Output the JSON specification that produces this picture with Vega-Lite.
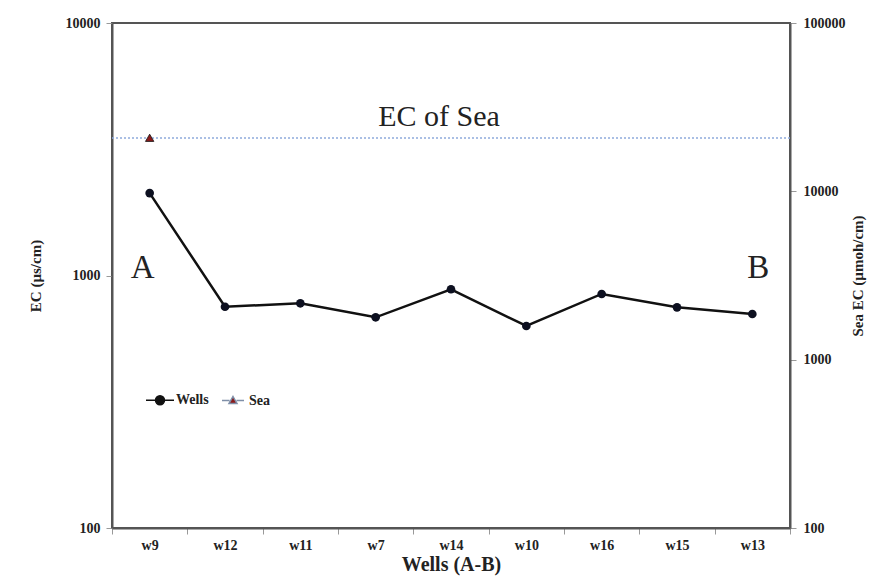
{
  "$schema": "https://vega.github.io/schema/vega-lite/v6.json",
  "width": 678,
  "height": 505,
  "autosize": {"type": "none"},
  "padding": {"left": 112, "top": 23, "right": 99, "bottom": 56},
  "background": "white",
  "config": {
    "view": {"stroke": "#555", "strokeWidth": 2},
    "font": "Liberation Serif",
    "axis": {
      "labelFont": "Liberation Serif", "labelFontWeight": "bold", "labelFontSize": 14, "labelColor": "#222",
      "titleFont": "Liberation Serif", "titleFontWeight": "bold", "titleFontSize": 15, "titleColor": "#222",
      "domainColor": "#555", "domainWidth": 2, "tickColor": "#999", "tickSize": 6, "grid": false
    },
    "legend": {"labelFont": "Liberation Serif", "labelFontWeight": "bold", "labelFontSize": 14, "labelColor": "#222"}
  },
  "datasets": {
    "wells": [
      {"well": "w9", "ec": 2120},
      {"well": "w12", "ec": 752},
      {"well": "w11", "ec": 776},
      {"well": "w7", "ec": 683},
      {"well": "w14", "ec": 882},
      {"well": "w10", "ec": 631},
      {"well": "w16", "ec": 845},
      {"well": "w15", "ec": 748},
      {"well": "w13", "ec": 704}
    ],
    "sea": [{"well": "w9", "sea_ec": 20800}],
    "legendrows": [{"series": "Wells"}, {"series": "Sea"}]
  },
  "layer": [
    {
      "data": {"name": "wells"},
      "layer": [
        {
          "mark": {"type": "line", "color": "#111", "strokeWidth": 2.5},
          "encoding": {
            "x": {"field": "well", "type": "nominal", "sort": null,
              "scale": {"type": "band", "domain": ["w9","w12","w11","w7","w14","w10","w16","w15","w13"], "paddingInner": 0, "paddingOuter": 0},
              "axis": {"title": "Wells (A-B)", "labelAngle": 0, "tickBand": "extent", "titleFontSize": 20, "labelFontSize": 14, "labelPadding": 4, "titlePadding": 2}},
            "y": {"field": "ec", "type": "quantitative",
              "scale": {"type": "log", "domain": [100, 10000]},
              "axis": {"title": "EC (µs/cm)", "values": [100, 1000, 10000], "format": "d", "labelPadding": 6, "titlePadding": 22}}
          }
        },
        {
          "mark": {"type": "point", "filled": true, "color": "#0d1020", "size": 75, "opacity": 1},
          "encoding": {
            "x": {"field": "well", "type": "nominal", "sort": null},
            "y": {"field": "ec", "type": "quantitative"}
          }
        },
        {
          "data": {"values": [{}]},
          "mark": {"type": "rule", "color": "#8faadc", "strokeDash": [2, 2], "strokeWidth": 1.5},
          "encoding": {"y": {"datum": 3505}}
        },
        {
          "data": {"values": [{}]},
          "mark": {"type": "text", "text": "EC of Sea", "font": "Liberation Serif", "fontSize": 30, "color": "#222", "dx": -12},
          "encoding": {"x": {"datum": "w14"}, "y": {"datum": 4250}}
        },
        {
          "data": {"values": [{}]},
          "mark": {"type": "text", "text": "A", "font": "Liberation Serif", "fontSize": 33, "color": "#222", "dx": -7},
          "encoding": {"x": {"datum": "w9"}, "y": {"datum": 1070}}
        },
        {
          "data": {"values": [{}]},
          "mark": {"type": "text", "text": "B", "font": "Liberation Serif", "fontSize": 33, "color": "#222", "dx": 6},
          "encoding": {"x": {"datum": "w13"}, "y": {"datum": 1070}}
        },
        {
          "data": {"name": "legendrows"},
          "mark": {"type": "point", "filled": true, "opacity": 0, "strokeWidth": 1.8},
          "encoding": {
            "shape": {"field": "series", "type": "nominal",
              "scale": {"domain": ["Wells", "Sea"], "range": [
                "M-1.4,0H-0.45M0.45,0H1.4M0.45,0A0.45,0.45 0 1 1 -0.45,0A0.45,0.45 0 1 1 0.45,0Z",
                "M-1.1,0H-0.35M0.35,0H1.1M0,-0.4L0.4,0.3L-0.4,0.3Z"
              ]},
              "legend": {"title": null, "orient": "none", "legendX": 37, "legendY": 366, "direction": "horizontal",
                "symbolSize": 400, "symbolOpacity": 1,
                "labelOffset": 5, "columnPadding": 10}},
            "fill": {"field": "series", "type": "nominal",
              "scale": {"domain": ["Wells", "Sea"], "range": ["#111", "#8b1a1a"]}},
            "stroke": {"field": "series", "type": "nominal",
              "scale": {"domain": ["Wells", "Sea"], "range": ["#111", "#7f8fa8"]}}
          }
        }
      ]
    },
    {
      "data": {"name": "sea"},
      "mark": {"type": "point", "shape": "triangle-up", "filled": true, "color": "#8b1a1a", "size": 70, "stroke": "#111", "strokeWidth": 0.8, "opacity": 1},
      "encoding": {
        "x": {"field": "well", "type": "nominal", "sort": null},
        "y": {"field": "sea_ec", "type": "quantitative",
          "scale": {"type": "log", "domain": [100, 100000]},
          "axis": {"orient": "right", "title": "Sea EC (µmoh/cm)", "values": [100, 1000, 10000, 100000], "format": "d", "labelPadding": 7, "titleAngle": 270, "titlePadding": 20}}
      }
    }
  ],
  "resolve": {"scale": {"y": "independent"}}
}
